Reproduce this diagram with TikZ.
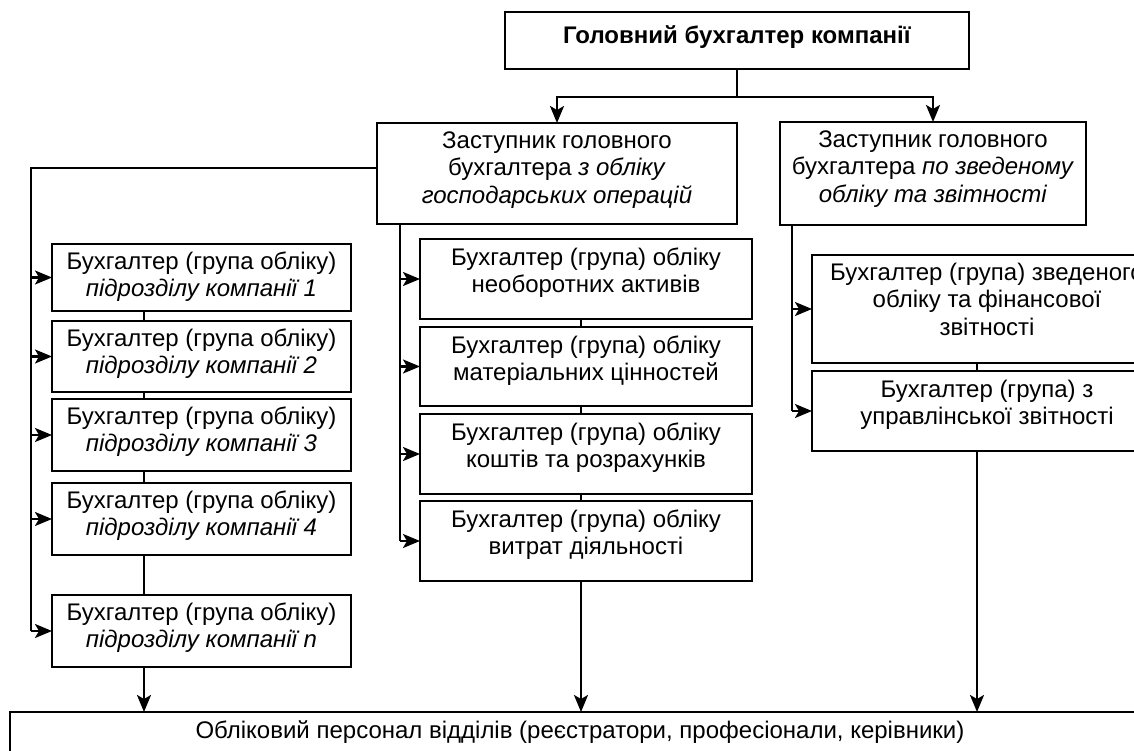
\documentclass[tikz,border=0pt]{standalone}
\usepackage{fontspec}
\setmainfont{Liberation Sans}
\usetikzlibrary{arrows.meta}
\newcommand\fsz{\fontsize{24}{27.6}\selectfont}
\begin{document}
\begin{tikzpicture}[x=1pt,y=-1pt,
  box/.style={draw, line width=2.2pt, inner sep=0pt, outer sep=0pt, anchor=north west},
  txt/.style={anchor=north, inner sep=0pt, align=center, font=\fsz},
  conn/.style={line width=2.2pt},
  arr/.style={conn, -{Stealth[length=17pt,width=14pt,inset=4pt]}}]
\useasboundingbox (0,0) rectangle (1134,751);
\clip (0,0) rectangle (1134,751);
\fill[white] (0,0) rectangle (1134,751);
% top
\node[box, minimum width=464, minimum height=57] (top) at (505,12) {};
\node[txt] (ttop) at (737,23.7) {\strut\textbf{Головний бухгалтер компанії}};
% deputies
\node[box, minimum width=360, minimum height=101] (d1) at (377,123) {};
\node[txt] (td1) at (557,128.7) {\strut Заступник головного\\бухгалтера \textit{з обліку}\\\textit{господарських операцій}};
\node[box, minimum width=306, minimum height=103] (d2) at (780,122) {};
\node[txt] (td2) at (933,127.7) {\strut Заступник головного\\бухгалтера \textit{по зведеному}\\\textit{обліку та звітності}};
% left column
\node[box, minimum width=299, minimum height=67] (L1) at (52,244) {};
\node[txt] (tL1) at (201.5,249.7) {\strut Бухгалтер (група обліку)\\\textit{підрозділу компанії 1}};
\node[box, minimum width=299, minimum height=71] (L2) at (52,321) {};
\node[txt] (tL2) at (201.5,326.7) {\strut Бухгалтер (група обліку)\\\textit{підрозділу компанії 2}};
\node[box, minimum width=299, minimum height=72] (L3) at (52,399) {};
\node[txt] (tL3) at (201.5,404.7) {\strut Бухгалтер (група обліку)\\\textit{підрозділу компанії 3}};
\node[box, minimum width=299, minimum height=72] (L4) at (52,483) {};
\node[txt] (tL4) at (201.5,488.7) {\strut Бухгалтер (група обліку)\\\textit{підрозділу компанії 4}};
\node[box, minimum width=299, minimum height=72] (L5) at (52,595) {};
\node[txt] (tL5) at (201.5,600.7) {\strut Бухгалтер (група обліку)\\\textit{підрозділу компанії n}};
% middle column
\node[box, minimum width=332, minimum height=80] (M1) at (420,239) {};
\node[txt] (tM1) at (586,245.7) {\strut Бухгалтер (група) обліку\\необоротних активів};
\node[box, minimum width=332, minimum height=79] (M2) at (420,327) {};
\node[txt] (tM2) at (586,333.7) {\strut Бухгалтер (група) обліку\\матеріальних цінностей};
\node[box, minimum width=332, minimum height=80] (M3) at (420,414) {};
\node[txt] (tM3) at (586,420.7) {\strut Бухгалтер (група) обліку\\коштів та розрахунків};
\node[box, minimum width=332, minimum height=80] (M4) at (420,501) {};
\node[txt] (tM4) at (586,507.7) {\strut Бухгалтер (група) обліку\\витрат діяльності};
% right column
\node[box, minimum width=350, minimum height=108] (R1) at (812,255) {};
\node[txt] (tR1) at (987,260.7) {\strut Бухгалтер (група) зведеного\\обліку та фінансової\\звітності};
\node[box, minimum width=350, minimum height=80] (R2) at (812,371) {};
\node[txt] (tR2) at (987,377.7) {\strut Бухгалтер (група) з\\управлінської звітності};
% bottom
\node[box, minimum width=1150, minimum height=80] (bot) at (10,712) {};
\node[txt] (tbot) at (580,718.7) {\strut Обліковий персонал відділів (реєстратори, професіонали, керівники)};
% connectors top
\coordinate (j) at (737,97);
\draw[conn] (top.south) -- (j);
\draw[arr] (j) -| (d1.north);
\draw[arr] (j) -| (d2.north);
% left trunk
\coordinate (lt) at (31,168);
\draw[conn] (lt -| d1.west) -- (lt) -- (lt |- L5.west);
\foreach \n in {L1,L2,L3,L4,L5} \draw[arr] (lt |- \n.west) -- (\n.west);
\coordinate (lc) at (144,0);
\draw[conn] (lc |- L1.south) -- (lc |- L2.north);
\draw[conn] (lc |- L2.south) -- (lc |- L3.north);
\draw[conn] (lc |- L3.south) -- (lc |- L4.north);
\draw[conn] (lc |- L4.south) -- (lc |- L5.north);
\draw[arr] (lc |- L5.south) -- (lc |- bot.north);
% middle trunk
\coordinate (mt) at (400,0);
\draw[conn] (mt |- d1.south) -- (mt |- M4.west);
\foreach \n in {M1,M2,M3,M4} \draw[arr] (mt |- \n.west) -- (\n.west);
\coordinate (mc) at (581,0);
\draw[conn] (mc |- M1.south) -- (mc |- M2.north);
\draw[conn] (mc |- M2.south) -- (mc |- M3.north);
\draw[conn] (mc |- M3.south) -- (mc |- M4.north);
\draw[arr] (mc |- M4.south) -- (mc |- bot.north);
% right trunk
\coordinate (rt) at (792,0);
\draw[conn] (rt |- d2.south) -- (rt |- R2.west);
\foreach \n in {R1,R2} \draw[arr] (rt |- \n.west) -- (\n.west);
\coordinate (rc) at (977,0);
\draw[conn] (rc |- R1.south) -- (rc |- R2.north);
\draw[arr] (rc |- R2.south) -- (rc |- bot.north);
\end{tikzpicture}
\end{document}
